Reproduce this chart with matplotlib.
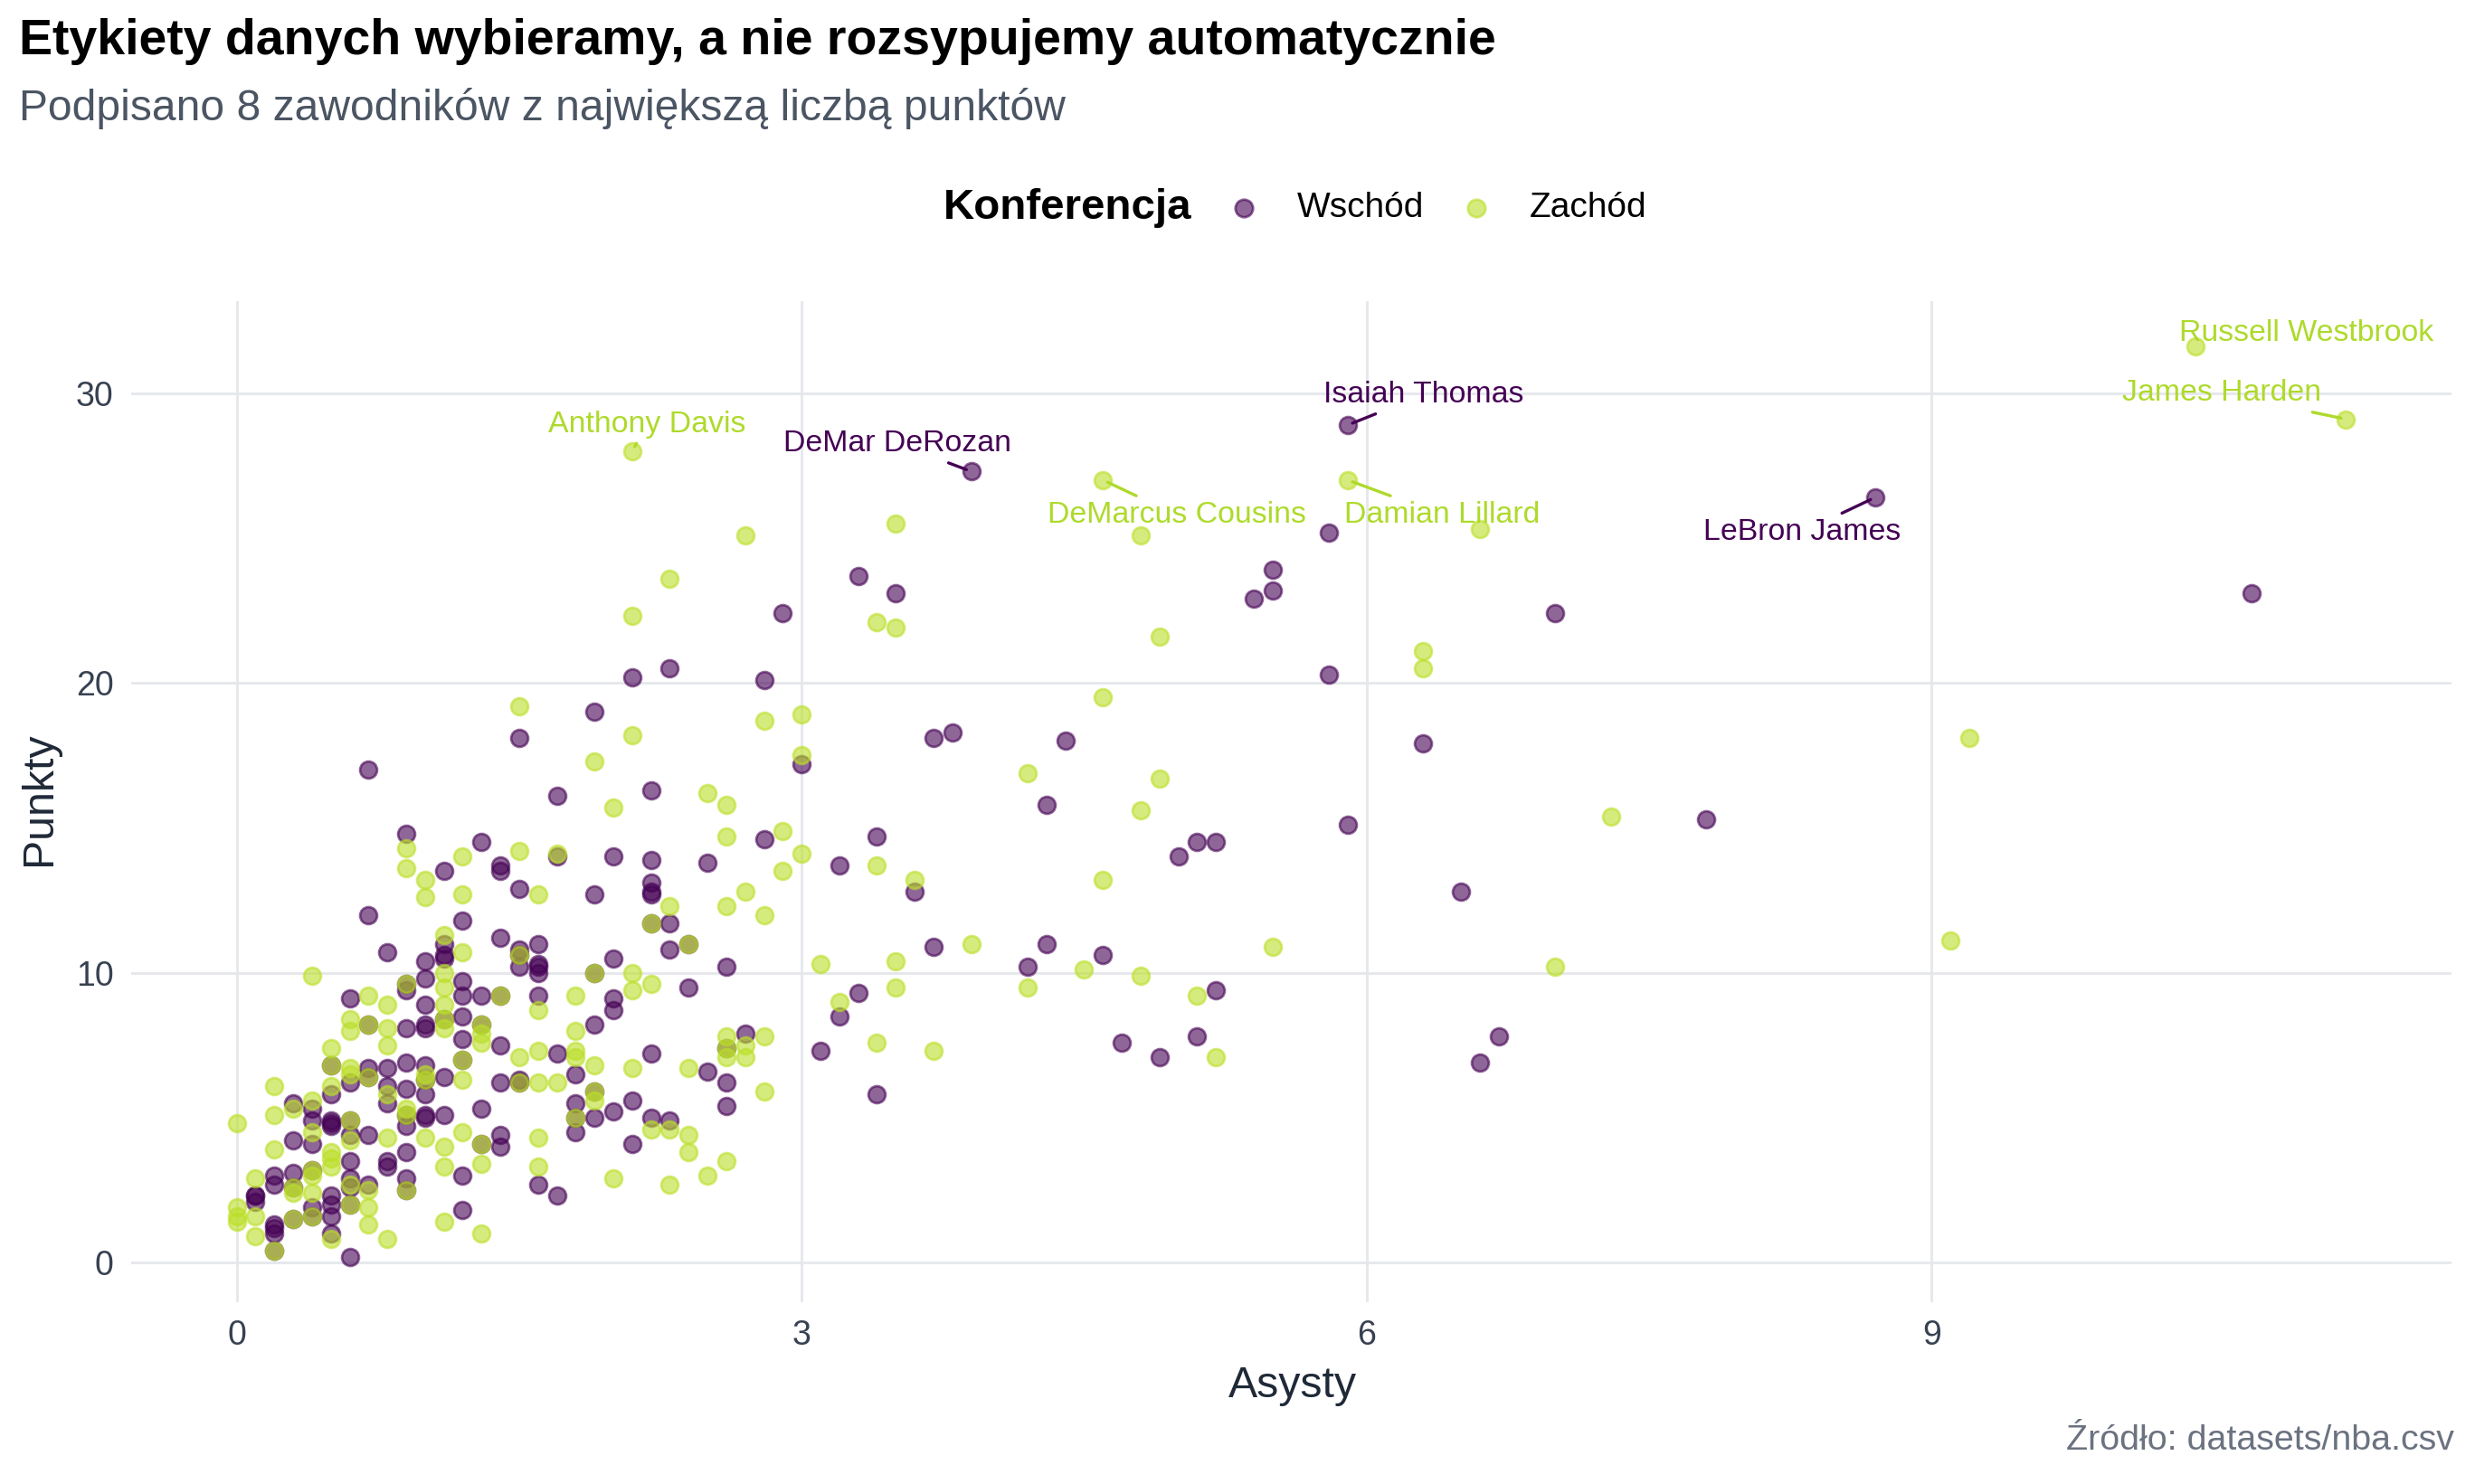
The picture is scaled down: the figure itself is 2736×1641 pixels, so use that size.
import matplotlib.pyplot as plt
from matplotlib.lines import Line2D

# --- dane: asysty i punkty na mecz ---
wschod_ast = [
    0.6, 0.9, 0.7, 0.5, 0.7, 0.8, 0.9, 0.7, 0.6, 0.8, 0.9, 0.5, 0.3, 0.8, 0.4, 0.9,
    0.4, 0.6, 0.5, 0.5, 0.5, 0.9, 0.6, 0.7, 0.3, 0.4, 0.9, 0.6, 0.8, 0.8, 0.4, 0.3,
    0.2, 0.6, 0.9, 0.2, 0.7, 0.3, 0.6, 0.9, 0.1, 0.1, 0.5, 0.1, 0.5, 0.6, 0.4, 0.4,
    0.5, 0.3, 0.2, 0.2, 0.2, 0.5, 0.2, 0.6,
    1.0, 2.0, 1.0, 1.0, 1.1, 1.2, 1.3, 1.9, 1.2, 1.4, 1.7, 1.0, 1.0, 1.0, 1.0, 1.0,
    1.1, 1.2, 1.4, 1.5, 1.5, 1.8, 1.9, 1.8, 1.8, 1.8, 1.9, 2.0, 2.1, 2.1, 1.1, 1.3,
    1.3, 1.4, 1.4, 1.2, 1.6, 1.7, 1.2,
    2.2, 2.7, 2.6, 2.5, 2.6, 2.6, 2.2, 2.3, 3.1,
    0.7, 0.9, 0.7, 0.8, 1.0, 1.0, 0.9, 0.9,
    1.9, 1.5, 1.7, 1.3, 1.7, 2.0, 1.1, 1.4, 1.4, 1.5, 1.9, 1.2, 1.4, 1.1, 1.1, 1.1,
    1.5, 1.5, 1.5, 1.6, 1.6, 1.6, 1.6, 1.9, 2.0, 1.2, 1.2, 1.3, 1.4, 1.6, 2.0,
    3.0, 2.2, 2.8, 2.2, 2.5, 2.2, 2.2, 2.2, 2.2, 2.3, 2.3, 2.4, 2.6, 2.4, 3.2,
    2.1, 2.3, 2.9, 2.8,
    3.3, 3.5, 5.5, 5.5, 5.4, 5.8, 5.8, 3.7, 3.8, 4.4, 4.3, 5.9, 3.4, 3.6, 5.0, 5.1, 5.2,
    3.7, 3.3, 3.2, 3.4, 4.3, 4.2, 4.6, 5.2, 4.7, 4.9, 5.1,
    10.7, 7.0, 6.3, 7.8, 6.5, 6.7, 6.6,
]
wschod_pts = [
    9.1, 8.1, 8.2, 6.8, 6.7, 6.7, 6.9, 6.4, 6.2, 6.1, 6.0, 5.8, 5.5, 5.5, 5.3, 5.1,
    4.9, 4.9, 4.9, 4.8, 4.7, 4.7, 4.4, 4.4, 4.2, 4.1, 3.8, 3.5, 3.5, 3.3, 3.2, 3.1,
    3.0, 2.9, 2.9, 2.7, 2.7, 2.6, 2.6, 2.5, 2.3, 2.3, 2.3, 2.1, 2.0, 2.0, 1.9, 1.6,
    1.6, 1.5, 1.3, 1.2, 1.0, 1.0, 0.4, 0.2,
    8.9, 8.7, 8.2, 8.1, 8.4, 8.5, 8.2, 8.2, 7.7, 7.5, 7.2, 6.8, 6.3, 5.8, 5.1, 5.0,
    6.4, 7.0, 6.2, 6.2, 6.3, 6.5, 5.9, 5.5, 5.0, 4.5, 5.0, 5.2, 5.6, 4.1, 5.1, 5.3,
    4.1, 4.4, 4.0, 3.0, 2.7, 2.3, 1.8,
    7.2, 7.9, 7.4, 6.6, 6.2, 5.4, 5.0, 4.9, 7.3,
    17.0, 14.8, 12.0, 10.7, 10.4, 9.8, 9.6, 9.4,
    19.0, 18.1, 16.1, 14.5, 14.0, 14.0, 13.5, 13.7, 13.5, 12.9, 12.7, 11.8, 11.2, 11.0, 10.6, 10.5,
    10.8, 10.6, 10.2, 11.0, 10.3, 10.2, 10.0, 10.0, 10.5, 9.7, 9.2, 9.2, 9.2, 9.2, 9.1,
    17.2, 16.3, 14.6, 13.9, 13.8, 13.1, 12.8, 12.7, 11.7, 11.7, 10.8, 11.0, 10.2, 9.5, 13.7,
    20.2, 20.5, 22.4, 20.1,
    23.7, 23.1, 23.9, 23.2, 22.9, 25.2, 20.3, 18.1, 18.3, 18.0, 15.8, 15.1, 14.7, 12.8, 14.0, 14.5, 14.5,
    10.9, 9.3, 8.5, 5.8, 11.0, 10.2, 10.6, 9.4, 7.6, 7.1, 7.8,
    23.1, 22.4, 17.9, 15.3, 12.8, 7.8, 6.9,
]

zachod_ast = [
    0.7, 0.8, 0.6, 0.7, 0.8, 0.6, 0.8, 0.5, 0.5, 0.6, 0.6, 0.7, 0.5, 0.2, 0.8, 0.4,
    0.3, 0.9, 0.2, 0.9, 0.6, 0.0, 0.4, 0.8, 0.6, 0.2, 0.5, 0.5, 0.5, 0.4, 0.4, 0.1,
    0.6, 0.3, 0.7, 0.9, 0.3, 0.4, 0.6, 0.0, 0.7, 0.0, 0.1, 0.4, 0.3, 0.0, 0.7, 0.1,
    0.5, 0.8, 0.2,
    1.1, 1.6, 1.1, 1.1, 1.3, 1.3, 1.3, 1.8, 1.5, 1.6, 1.8, 1.8, 1.9, 1.0, 1.0, 1.0,
    1.2, 1.2, 1.5, 1.6, 1.7, 1.9, 1.8, 1.9, 1.2, 1.1, 1.3, 1.3, 1.1, 1.6, 1.6, 2.0,
    1.1, 1.3,
    2.6, 2.8, 2.6, 2.7, 2.6, 2.7, 2.4, 2.8, 2.1, 2.2, 2.3, 2.4, 2.4, 2.6, 2.5, 2.3,
    0.9, 0.9, 1.0, 1.0, 0.4, 0.9,
    1.5, 2.1, 1.9, 2.0, 1.5, 1.7, 1.2, 1.2, 1.6, 1.1, 1.2, 1.5, 1.9, 2.1, 1.1, 1.1,
    1.4, 1.8, 2.1,
    2.8, 3.0, 3.0, 2.5, 2.6, 2.6, 2.9, 3.0, 2.9, 2.3, 2.6, 2.7, 2.8, 2.2, 2.4, 2.2, 3.1,
    2.1, 2.3, 2.7,
    3.5, 4.8, 3.4, 3.5, 4.9, 4.6, 4.2, 4.9, 4.8, 3.4, 3.6, 4.6,
    3.9, 3.5, 3.5, 3.2, 3.4, 3.7, 4.2, 4.5, 4.8, 5.1, 5.5, 5.2,
    6.6, 6.3, 6.3, 9.2, 7.3, 9.1, 7.0,
]
zachod_pts = [
    9.2, 8.9, 8.4, 8.2, 8.1, 8.0, 7.5, 7.4, 6.8, 6.7, 6.5, 6.4, 6.1, 6.1, 5.8, 5.6,
    5.3, 5.3, 5.1, 5.1, 4.9, 4.8, 4.5, 4.3, 4.2, 3.9, 3.8, 3.6, 3.3, 3.2, 3.0, 2.9,
    2.7, 2.6, 2.5, 2.5, 2.4, 2.4, 2.0, 1.9, 1.9, 1.6, 1.6, 1.6, 1.5, 1.4, 1.3, 0.9,
    0.8, 0.8, 0.4,
    8.9, 8.7, 8.4, 8.1, 8.2, 7.9, 7.6, 8.0, 7.1, 7.3, 7.3, 7.1, 6.8, 6.5, 6.3, 4.3,
    7.0, 6.3, 6.2, 6.2, 6.2, 5.9, 5.0, 5.6, 4.5, 4.0, 4.1, 3.4, 3.3, 4.3, 3.3, 2.9,
    1.4, 1.0,
    7.8, 7.8, 7.4, 7.5, 7.1, 7.1, 6.7, 5.9, 6.7, 4.6, 4.6, 4.4, 3.8, 3.5, 3.0, 2.7,
    14.3, 13.6, 13.2, 12.6, 9.9, 9.6,
    19.2, 18.2, 17.3, 15.7, 14.2, 14.1, 14.0, 12.7, 12.7, 11.3, 10.7, 10.6, 10.0, 10.0, 10.0, 9.5,
    9.2, 9.2, 9.4,
    18.7, 18.9, 17.5, 16.2, 15.8, 14.7, 14.9, 14.1, 13.5, 12.3, 12.3, 12.8, 12.0, 11.7, 11.0, 9.6, 10.3,
    22.3, 23.6, 25.1,
    25.5, 25.1, 22.1, 21.9, 21.6, 19.5, 16.9, 16.7, 15.6, 13.7, 13.2, 13.2,
    11.0, 10.4, 9.5, 9.0, 7.6, 7.3, 9.5, 10.1, 9.9, 9.2, 10.9, 7.1,
    25.3, 21.1, 20.5, 18.1, 15.4, 11.1, 10.2,
]

# 8 podpisanych zawodnikow
label_names = ["Russell Westbrook", "James Harden", "Isaiah Thomas", "Anthony Davis",
               "DeMar DeRozan", "DeMarcus Cousins", "Damian Lillard", "LeBron James"]
label_ast = [10.4, 11.2, 5.9, 2.1, 3.9, 4.6, 5.9, 8.7]
label_pts = [31.6, 29.1, 28.9, 28.0, 27.3, 27.0, 27.0, 26.4]
label_conf = ["Zachód", "Zachód", "Wschód", "Zachód", "Wschód", "Zachód", "Zachód", "Wschód"]

PURPLE = "#440154"
GREEN = "#BBDF27"
GREEN_TXT = "#AEDA2C"
FONT = "Liberation Sans"

plt.rcParams["font.family"] = [FONT, "DejaVu Sans"]


def plot_chart():
    fig = plt.figure(figsize=(13.68, 8.205), dpi=200)
    ax = fig.add_axes([0.053, 0.1225, 0.9375, 0.6745])

    # punkty (lacznie z podpisanymi)
    e_ast = wschod_ast + [a for a, c in zip(label_ast, label_conf) if c == "Wschód"]
    e_pts = wschod_pts + [p for p, c in zip(label_pts, label_conf) if c == "Wschód"]
    w_ast = zachod_ast + [a for a, c in zip(label_ast, label_conf) if c == "Zachód"]
    w_pts = zachod_pts + [p for p, c in zip(label_pts, label_conf) if c == "Zachód"]

    ax.scatter(e_ast, e_pts, s=46, color=PURPLE, edgecolors=PURPLE,
               linewidths=1.0, alpha=0.6, zorder=3)
    ax.scatter(w_ast, w_pts, s=46, color=GREEN, edgecolors=GREEN,
               linewidths=1.0, alpha=0.6, zorder=3)

    # podpisy (przesuniecia tekstu wzgledem punktu)
    offsets = {
        "Russell Westbrook": (0.59, 0.46, False),
        "James Harden": (-0.66, 0.90, True),
        "Isaiah Thomas": (0.40, 1.04, True),
        "Anthony Davis": (0.08, 0.92, True),
        "DeMar DeRozan": (-0.39, 0.95, True),
        "DeMarcus Cousins": (0.39, -1.20, True),
        "Damian Lillard": (0.50, -1.20, True),
        "LeBron James": (-0.39, -1.20, True),
    }
    for name, a, p, c in zip(label_names, label_ast, label_pts, label_conf):
        col = PURPLE if c == "Wschód" else GREEN_TXT
        dx, dy, seg = offsets[name]
        arrow = dict(arrowstyle="-", color=col, lw=1.2, shrinkA=0, shrinkB=2) if seg else None
        ax.annotate(name, xy=(a, p), xytext=(a + dx, p + dy), textcoords="data",
                    ha="center", va="center", fontsize=12.2, color=col,
                    arrowprops=arrow, zorder=4)

    ax.set_xlim(-0.56, 11.76)
    ax.set_ylim(-1.37, 33.17)
    ax.set_xticks([0, 3, 6, 9])
    ax.set_yticks([0, 10, 20, 30])
    ax.grid(True, color="#E5E7EB", linewidth=1.0, zorder=0)
    ax.set_axisbelow(True)
    for s in ax.spines.values():
        s.set_visible(False)
    ax.tick_params(length=0, labelsize=13.5, labelcolor="#374151", pad=7)

    # teksty
    fig.text(0.0075, 0.972, "Etykiety danych wybieramy, a nie rozsypujemy automatycznie",
             fontsize=20, fontweight="bold", color="black", ha="left", va="center")
    fig.text(0.0075, 0.927, "Podpisano 8 zawodników z największą liczbą punktów",
             fontsize=17.3, color="#4B5563", ha="left", va="center")
    fig.text(0.016, 0.462, "Punkty", rotation=90, fontsize=17.4, color="#1F2937",
             ha="center", va="center")
    fig.text(0.5224, 0.066, "Asysty", fontsize=17.4, color="#1F2937", ha="center", va="center")
    fig.text(0.9917, 0.029, "Źródło: datasets/nba.csv", fontsize=14.2, color="#6B7280",
             ha="right", va="center")

    # legenda
    ly = 0.860
    fig.text(0.381, ly, "Konferencja", fontsize=17.1, fontweight="bold", ha="left", va="center")
    for mx, tx, col, txt in [(0.5026, 0.524, PURPLE, "Wschód"), (0.5964, 0.618, GREEN, "Zachód")]:
        fig.add_artist(Line2D([mx], [ly], marker="o", markersize=7.0, color=col,
                              markeredgecolor=col, markeredgewidth=1.0, alpha=0.6,
                              linestyle="none", transform=fig.transFigure))
        fig.text(tx, ly, txt, fontsize=14, ha="left", va="center")

    fig.savefig("out.png", dpi=200)


if __name__ == "__main__":
    plot_chart()
